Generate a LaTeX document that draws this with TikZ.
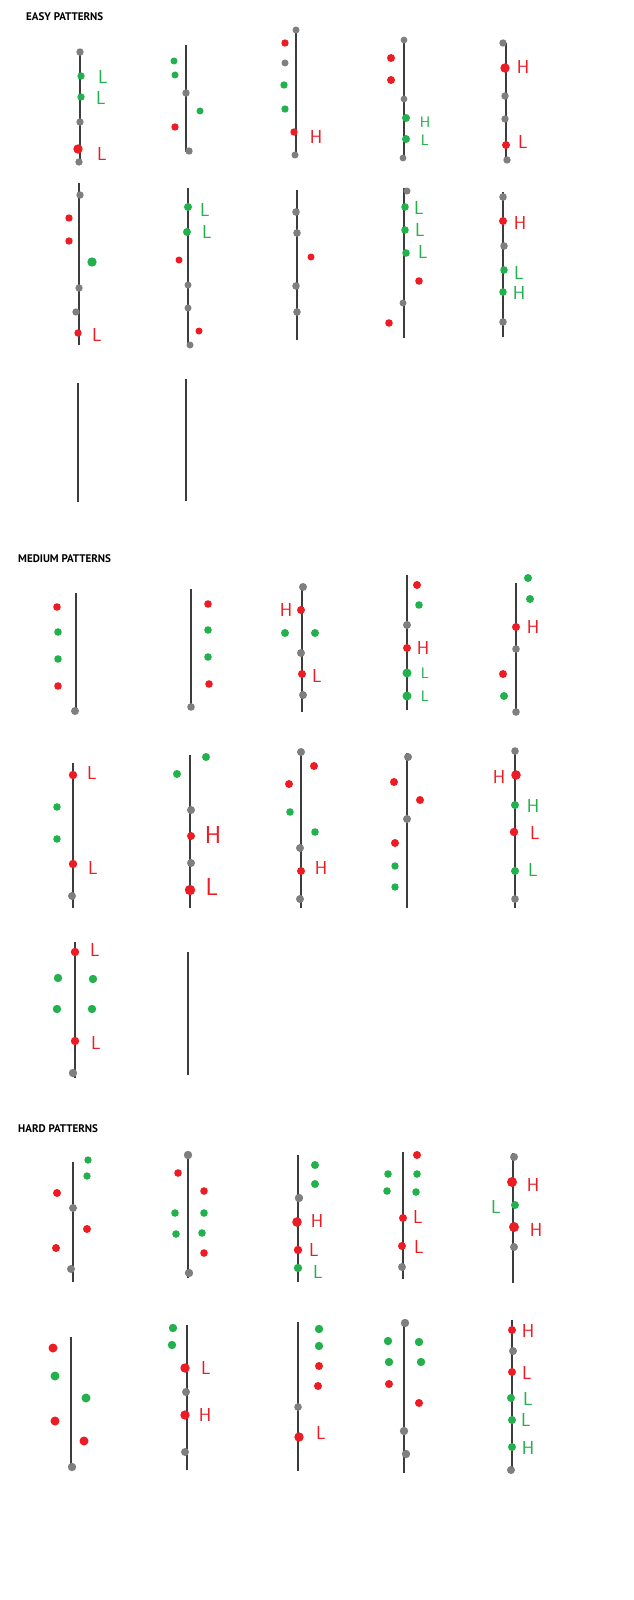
\documentclass[tikz,border=0pt]{standalone}
\usepackage{fontspec}
\usepackage{tikz}
\newfontfamily\titlefont{PT Sans}
\definecolor{stemGray}{HTML}{3C3C3C}
\definecolor{dotGray}{HTML}{7F7F7F}
\definecolor{dotRed}{HTML}{ED1C24}
\definecolor{dotGreen}{HTML}{22B14C}

\tikzset{
  stem/.style={draw=stemGray, line width=1.4pt},
  gdot/.style={fill=dotGray},
  rdot/.style={fill=dotRed},
  vdot/.style={fill=dotGreen},
  hand/.style={font=\sffamily\fontsize{16}{16}\selectfont, inner sep=0pt},
  bighand/.style={font=\sffamily\fontsize{21}{21}\selectfont, inner sep=0pt},
  smallhand/.style={font=\sffamily\fontsize{13}{13}\selectfont, inner sep=0pt},
  heading/.style={font=\titlefont\bfseries\fontsize{9.4}{11}\selectfont, anchor=west, inner sep=0pt}
}

\begin{document}
\begin{tikzpicture}[x=0.03cm, y=-0.03cm]

    \useasboundingbox[fill=white] (0,0) rectangle (633,1600);

    % headings
    \node[heading] (easy) at (26,17) {EASY PATTERNS};
    \node[heading] (medium) at (18,559) {MEDIUM PATTERNS};
    \node[heading] (hard) at (18,1129) {HARD PATTERNS};

    %%% easy, first row
    \draw[stem] (80,50) -- (80,163);
    \foreach \x/\y in {80/52, 80/122, 79/162} \fill[gdot] (\x,\y) circle (3.7);
    \foreach \x/\y in {81/76, 81/97} \fill[vdot] (\x,\y) circle (3.7);
    \fill[rdot] (78,149) circle (4.7);
    \node[hand, dotGreen] (e1a) at (103,77) {L};
    \node[hand, dotGreen] (e1b) at (101,98) {L};
    \node[hand, dotRed] (e1c) at (102,154) {L};

    \draw[stem] (186,45) -- (186,152);
    \foreach \x/\y in {186/93, 189/151} \fill[gdot] (\x,\y) circle (3.7);
    \foreach \x/\y in {174/61, 175/75, 200/111} \fill[vdot] (\x,\y) circle (3.5);
    \fill[rdot] (175,127) circle (3.7);

    \draw[stem] (296,30) -- (296,155);
    \foreach \x/\y in {296/30, 285/63, 295/155} \fill[gdot] (\x,\y) circle (3.5);
    \foreach \x/\y in {285/43, 294/132} \fill[rdot] (\x,\y) circle (3.7);
    \foreach \x/\y in {284/85, 285/109} \fill[vdot] (\x,\y) circle (3.7);
    \node[hand, dotRed] (e3a) at (316,137) {H};

    \draw[stem] (404,38) -- (404,160);
    \foreach \x/\y in {404/40, 404/99, 403/158} \fill[gdot] (\x,\y) circle (3.4);
    \foreach \x/\y in {391/58, 391/80} \fill[rdot] (\x,\y) circle (4);
    \foreach \x/\y in {406/118, 406/139} \fill[vdot] (\x,\y) circle (4);
    \node[smallhand, dotGreen] (e4a) at (425,122) {H};
    \node[smallhand, dotGreen] (e4b) at (425,140) {L};

    \draw[stem] (506,43) -- (506,162);
    \foreach \x/\y in {503/43, 505/96, 505/119, 507/160} \fill[gdot] (\x,\y) circle (3.7);
    \fill[rdot] (505,68) circle (4.7);
    \fill[rdot] (506,145) circle (4);
    \node[hand, dotRed] (e5a) at (523,67) {H};
    \node[hand, dotRed] (e5b) at (523,142) {L};

    %%% easy, second row
    \draw[stem] (79,183) -- (79,345);
    \foreach \x/\y in {80/195, 79/288, 76/312} \fill[gdot] (\x,\y) circle (3.7);
    \foreach \x/\y in {69/218, 69/241, 78/333} \fill[rdot] (\x,\y) circle (3.7);
    \fill[vdot] (92,262) circle (4.7);
    \node[hand, dotRed] (e6a) at (97,335) {L};

    \draw[stem] (188,188) -- (188,345);
    \foreach \x/\y in {188/207, 187/232} \fill[vdot] (\x,\y) circle (4);
    \foreach \x/\y in {179/260, 199/331} \fill[rdot] (\x,\y) circle (3.5);
    \foreach \x/\y in {188/285, 188/308, 190/345} \fill[gdot] (\x,\y) circle (3.5);
    \node[hand, dotGreen] (e7a) at (205,210) {L};
    \node[hand, dotGreen] (e7b) at (207,232) {L};

    \draw[stem] (297,190) -- (297,340);
    \foreach \x/\y in {296/212, 297/233, 296/286, 297/312} \fill[gdot] (\x,\y) circle (3.8);
    \fill[rdot] (311,257) circle (3.5);

    \draw[stem] (404,188) -- (404,338);
    \foreach \x/\y in {407/191, 403/303} \fill[gdot] (\x,\y) circle (3.5);
    \foreach \x/\y in {405/207, 405/230, 406/253} \fill[vdot] (\x,\y) circle (3.8);
    \foreach \x/\y in {419/281, 389/323} \fill[rdot] (\x,\y) circle (3.8);
    \node[hand, dotGreen] (e9a) at (419,208) {L};
    \node[hand, dotGreen] (e9b) at (420,230) {L};
    \node[hand, dotGreen] (e9c) at (423,252) {L};

    \draw[stem] (503,192) -- (503,337);
    \foreach \x/\y in {503/197, 504/246, 503/322} \fill[gdot] (\x,\y) circle (3.8);
    \fill[rdot] (503,221) circle (4);
    \foreach \x/\y in {504/270, 503/292} \fill[vdot] (\x,\y) circle (3.8);
    \node[hand, dotRed] (e10a) at (520,223) {H};
    \node[hand, dotGreen] (e10b) at (519,273) {L};
    \node[hand, dotGreen] (e10c) at (519,293) {H};

    %%% easy, third row (empty)
    \draw[stem] (78,383) -- (78,502);
    \draw[stem] (186,379) -- (186,501);

    %%% medium, first row
    \draw[stem] (76,593) -- (76,712);
    \foreach \x/\y in {57/607, 58/686} \fill[rdot] (\x,\y) circle (3.8);
    \foreach \x/\y in {58/632, 58/659} \fill[vdot] (\x,\y) circle (3.8);
    \fill[gdot] (75,711) circle (4);

    \draw[stem] (191,589) -- (191,707);
    \foreach \x/\y in {208/604, 209/684} \fill[rdot] (\x,\y) circle (3.8);
    \foreach \x/\y in {208/630, 208/657} \fill[vdot] (\x,\y) circle (3.8);
    \fill[gdot] (191,707) circle (3.8);

    \draw[stem] (302,585) -- (302,712);
    \foreach \x/\y in {303/587, 301/653, 303/695} \fill[gdot] (\x,\y) circle (4);
    \foreach \x/\y in {301/610, 302/674} \fill[rdot] (\x,\y) circle (4);
    \foreach \x/\y in {285/633, 315/633} \fill[vdot] (\x,\y) circle (4);
    \node[hand, dotRed] (m3a) at (286,610) {H};
    \node[hand, dotRed] (m3b) at (317,676) {L};

    \draw[stem] (407,575) -- (407,710);
    \foreach \x/\y in {417/585, 407/648} \fill[rdot] (\x,\y) circle (4);
    \fill[vdot] (419,605) circle (3.8);
    \foreach \x/\y in {407/673, 407/696} \fill[vdot] (\x,\y) circle (4.5);
    \fill[gdot] (407,625) circle (4);
    \node[hand, dotRed] (m4a) at (423,648) {H};
    \node[smallhand, dotGreen] (m4b) at (425,673) {L};
    \node[smallhand, dotGreen] (m4c) at (425,696) {L};

    \draw[stem] (516,583) -- (516,712);
    \foreach \x/\y in {528/578, 530/599, 504/696} \fill[vdot] (\x,\y) circle (4);
    \foreach \x/\y in {516/627, 503/674} \fill[rdot] (\x,\y) circle (4);
    \foreach \x/\y in {516/649, 516/712} \fill[gdot] (\x,\y) circle (3.8);
    \node[hand, dotRed] (m5a) at (533,627) {H};

    %%% medium, second row
    \draw[stem] (73,763) -- (73,908);
    \foreach \x/\y in {73/775, 73/864} \fill[rdot] (\x,\y) circle (4.2);
    \foreach \x/\y in {57/807, 57/839} \fill[vdot] (\x,\y) circle (3.8);
    \fill[gdot] (72,896) circle (4);
    \node[hand, dotRed] (m6a) at (92,773) {L};
    \node[hand, dotRed] (m6b) at (93,868) {L};

    \draw[stem] (190,755) -- (190,908);
    \foreach \x/\y in {206/757, 177/774} \fill[vdot] (\x,\y) circle (4);
    \foreach \x/\y in {191/810, 191/863} \fill[gdot] (\x,\y) circle (4);
    \fill[rdot] (191,836) circle (4);
    \fill[rdot] (190,890) circle (5.2);
    \node[bighand, dotRed] (m7a) at (213,835) {H};
    \node[bighand, dotRed] (m7b) at (212,887) {L};

    \draw[stem] (301,752) -- (301,908);
    \foreach \x/\y in {301/752, 300/848, 300/899} \fill[gdot] (\x,\y) circle (4);
    \foreach \x/\y in {314/766, 289/784, 301/871} \fill[rdot] (\x,\y) circle (4);
    \foreach \x/\y in {290/812, 315/832} \fill[vdot] (\x,\y) circle (3.8);
    \node[hand, dotRed] (m8a) at (321,868) {H};

    \draw[stem] (407,753) -- (407,908);
    \foreach \x/\y in {408/757, 407/819} \fill[gdot] (\x,\y) circle (4);
    \foreach \x/\y in {394/782, 420/800, 395/843} \fill[rdot] (\x,\y) circle (4);
    \foreach \x/\y in {395/866, 395/887} \fill[vdot] (\x,\y) circle (3.7);

    \draw[stem] (515,750) -- (515,908);
    \foreach \x/\y in {515/751, 515/899} \fill[gdot] (\x,\y) circle (3.8);
    \fill[rdot] (516,775) circle (4.8);
    \fill[rdot] (514,832) circle (4.2);
    \foreach \x/\y in {515/805, 515/871} \fill[vdot] (\x,\y) circle (4);
    \node[hand, dotRed] (m10a) at (499,777) {H};
    \node[hand, dotGreen] (m10b) at (533,806) {H};
    \node[hand, dotRed] (m10c) at (535,833) {L};
    \node[hand, dotGreen] (m10d) at (533,870) {L};

    %%% medium, third row
    \draw[stem] (75,942) -- (75,1078);
    \foreach \x/\y in {75/952, 75/1041} \fill[rdot] (\x,\y) circle (4.2);
    \foreach \x/\y in {58/978, 93/979, 57/1009, 92/1009} \fill[vdot] (\x,\y) circle (4.2);
    \fill[gdot] (73,1073) circle (4.2);
    \node[hand, dotRed] (m11a) at (95,950) {L};
    \node[hand, dotRed] (m11b) at (96,1043) {L};

    \draw[stem] (188,952) -- (188,1075);

    %%% hard, first row
    \draw[stem] (73,1162) -- (73,1282);
    \foreach \x/\y in {88/1160, 87/1176} \fill[vdot] (\x,\y) circle (3.7);
    \foreach \x/\y in {57/1193, 87/1229, 56/1248} \fill[rdot] (\x,\y) circle (4);
    \foreach \x/\y in {73/1208, 71/1269} \fill[gdot] (\x,\y) circle (4);

    \draw[stem] (188,1155) -- (188,1278);
    \foreach \x/\y in {188/1155, 189/1273} \fill[gdot] (\x,\y) circle (4.2);
    \foreach \x/\y in {178/1173, 204/1191, 204/1253} \fill[rdot] (\x,\y) circle (3.8);
    \foreach \x/\y in {175/1213, 204/1213, 176/1234, 202/1233} \fill[vdot] (\x,\y) circle (3.8);

    \draw[stem] (298,1155) -- (298,1282);
    \foreach \x/\y in {315/1165, 315/1184} \fill[vdot] (\x,\y) circle (4);
    \fill[vdot] (298,1268) circle (4.2);
    \fill[gdot] (299,1198) circle (4.2);
    \fill[rdot] (297,1222) circle (4.8);
    \fill[rdot] (298,1250) circle (4.2);
    \node[hand, dotRed] (h3a) at (317,1221) {H};
    \node[hand, dotRed] (h3b) at (314,1250) {L};
    \node[hand, dotGreen] (h3c) at (318,1272) {L};

    \draw[stem] (403,1152) -- (403,1279);
    \foreach \x/\y in {417/1155, 403/1218, 402/1246} \fill[rdot] (\x,\y) circle (4);
    \foreach \x/\y in {388/1174, 417/1174, 387/1191, 416/1192} \fill[vdot] (\x,\y) circle (3.8);
    \fill[gdot] (402,1267) circle (4);
    \node[hand, dotRed] (h4a) at (418,1217) {L};
    \node[hand, dotRed] (h4b) at (419,1247) {L};

    \draw[stem] (513,1153) -- (513,1283);
    \foreach \x/\y in {514/1157, 514/1247} \fill[gdot] (\x,\y) circle (4);
    \foreach \x/\y in {512/1182, 514/1227} \fill[rdot] (\x,\y) circle (5);
    \fill[vdot] (515,1205) circle (4);
    \node[hand, dotRed] (h5a) at (533,1185) {H};
    \node[hand, dotGreen] (h5b) at (496,1207) {L};
    \node[hand, dotRed] (h5c) at (536,1230) {H};

    %%% hard, second row
    \draw[stem] (71,1337) -- (71,1468);
    \foreach \x/\y in {53/1348, 55/1421, 84/1441} \fill[rdot] (\x,\y) circle (4.5);
    \foreach \x/\y in {55/1376, 86/1398} \fill[vdot] (\x,\y) circle (4.5);
    \fill[gdot] (72,1467) circle (4.2);

    \draw[stem] (187,1325) -- (187,1470);
    \foreach \x/\y in {173/1328, 172/1345} \fill[vdot] (\x,\y) circle (4.2);
    \foreach \x/\y in {185/1368, 185/1415} \fill[rdot] (\x,\y) circle (4.7);
    \foreach \x/\y in {186/1392, 185/1452} \fill[gdot] (\x,\y) circle (4);
    \node[hand, dotRed] (k2a) at (206,1368) {L};
    \node[hand, dotRed] (k2b) at (205,1415) {H};

    \draw[stem] (298,1322) -- (298,1471);
    \foreach \x/\y in {319/1329, 319/1346} \fill[vdot] (\x,\y) circle (4.2);
    \foreach \x/\y in {319/1366, 318/1386} \fill[rdot] (\x,\y) circle (4);
    \fill[rdot] (299,1437) circle (4.7);
    \fill[gdot] (298,1407) circle (3.8);
    \node[hand, dotRed] (k3a) at (321,1433) {L};

    \draw[stem] (404,1322) -- (404,1473);
    \foreach \x/\y in {405/1323, 404/1431, 406/1454} \fill[gdot] (\x,\y) circle (4.2);
    \foreach \x/\y in {388/1341, 419/1342, 389/1362, 421/1362} \fill[vdot] (\x,\y) circle (4.2);
    \foreach \x/\y in {389/1384, 419/1403} \fill[rdot] (\x,\y) circle (4);

    \draw[stem] (512,1320) -- (512,1470);
    \foreach \x/\y in {512/1330, 512/1372} \fill[rdot] (\x,\y) circle (4);
    \foreach \x/\y in {513/1351, 511/1470} \fill[gdot] (\x,\y) circle (4);
    \foreach \x/\y in {511/1398, 512/1420, 512/1447} \fill[vdot] (\x,\y) circle (4);
    \node[hand, dotRed] (k5a) at (528,1331) {H};
    \node[hand, dotRed] (k5b) at (527,1373) {L};
    \node[hand, dotGreen] (k5c) at (528,1399) {L};
    \node[hand, dotGreen] (k5d) at (526,1420) {L};
    \node[hand, dotGreen] (k5e) at (528,1448) {H};

\end{tikzpicture}
\end{document}
